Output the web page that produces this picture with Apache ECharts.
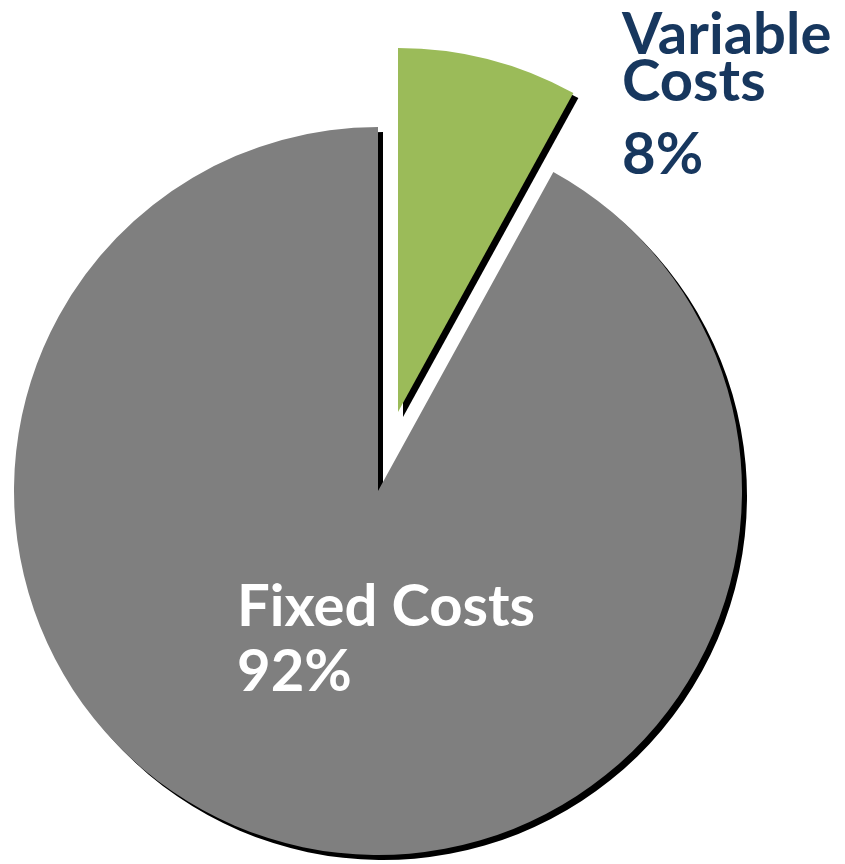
<!DOCTYPE html>
<html>
<head>
<meta charset="utf-8">
<script src="https://cdn.jsdelivr.net/npm/echarts@6/dist/echarts.min.js"></script>
<style>html,body{margin:0;padding:0;background:#fff;}#c{width:845px;height:864px;}</style>
</head>
<body>
<div id="c"></div>
<script>
var categories = ['Variable Costs', 'Fixed Costs'];
var values = [8, 92];
var colors = ['#9BBB59', '#7F7F7F'];
var labelColors = ['#17375E', '#FFFFFF'];

// layout constants (not data)
var pieCenter = [378, 491];
var pieRadius = 364;
var explodeOffset = [20, -79];
var labelPos = [
  {x: 622, y: 12, align: 'left', verticalAlign: 'top'},
  {x: 237, y: 575, align: 'left', verticalAlign: 'top'}
];

function labelFormatter(p) {
  if (p.dataIndex === 0) {
    return p.name.split(' ').map(function (w) { return '{v|' + w + '}'; }).join('\n') + '\n{vp|' + p.value + '%}';
  }
  return '{f|' + p.name + '}\n{f|' + p.value + '%}';
}

var FS = 58;
var richStyles = {
  v: {color: labelColors[0], fontFamily: 'Lato', fontWeight: 'bold', fontSize: FS, lineHeight: 47},
  vp: {color: labelColors[0], fontFamily: 'Lato', fontWeight: 'bold', fontSize: FS, lineHeight: 99},
  f: {color: labelColors[1], fontFamily: 'Lato', fontWeight: 'bold', fontSize: FS, lineHeight: 65}
};

function makeSeries(visibleIndex, center) {
  return {
    type: 'pie',
    center: center,
    radius: [0, pieRadius],
    startAngle: 90,
    clockwise: true,
    avoidLabelOverlap: false,
    silent: true,
    emphasis: {disabled: true},
    labelLine: {show: false},
    label: {
      show: true,
      position: 'inside',
      formatter: labelFormatter,
      rich: richStyles
    },
    labelLayout: function (params) {
      return labelPos[params.dataIndex];
    },
    data: categories.map(function (name, i) {
      var vis = i === visibleIndex;
      return {
        name: name,
        value: values[i],
        label: {show: vis},
        itemStyle: vis ? {
          color: colors[i],
          borderWidth: 0,
          shadowColor: '#000000',
          shadowBlur: 0,
          shadowOffsetX: 5,
          shadowOffsetY: 5
        } : {
          color: 'rgba(0,0,0,0)',
          borderWidth: 0,
          shadowColor: 'rgba(0,0,0,0)'
        }
      };
    })
  };
}

var chart = echarts.init(document.getElementById('c'), null, {renderer: 'canvas'});
chart.setOption({
  animation: false,
  backgroundColor: '#ffffff',
  series: [
    makeSeries(1, pieCenter),
    makeSeries(0, [pieCenter[0] + explodeOffset[0], pieCenter[1] + explodeOffset[1]])
  ]
});
</script>
</body>
</html>
